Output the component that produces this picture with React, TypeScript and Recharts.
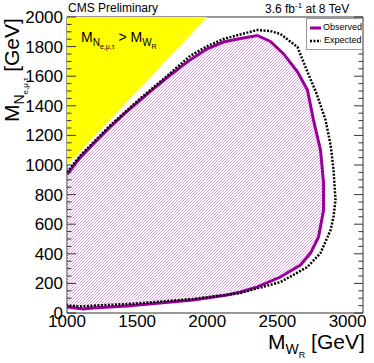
import { ComposedChart, Scatter, XAxis, YAxis, Legend } from 'recharts'

// observed exclusion contour (GeV), traced clockwise from the left edge
const obsMass = [1000, 1093, 1200, 1307, 1414, 1521, 1629, 1736, 1879, 2000, 2114, 2236, 2357, 2450, 2543, 2643, 2714, 2757, 2807, 2829, 2829, 2793, 2736, 2664, 2521, 2357, 2236, 2143, 1900, 1664, 1429, 1186, 1114, 1000]
const obsN = [935, 1050, 1155, 1257, 1350, 1439, 1525, 1608, 1712, 1785, 1831, 1855, 1875, 1835, 1752, 1630, 1507, 1304, 1101, 878, 696, 514, 405, 324, 243, 176, 142, 122, 88, 68, 47, 34, 27, 40]

// expected contour
const expMass = [1000, 1093, 1307, 1521, 1736, 1879, 2000, 2114, 2236, 2357, 2450, 2521, 2643, 2700, 2780, 2843, 2880, 2900, 2914, 2900, 2879, 2807, 2714, 2600, 2521, 2236, 1900, 1500, 1200, 1100, 1000]
const expN = [950, 1062, 1267, 1448, 1620, 1738, 1803, 1851, 1882, 1912, 1905, 1885, 1797, 1662, 1480, 1304, 1130, 966, 764, 650, 561, 405, 311, 250, 209, 135, 95, 65, 50, 45, 52]

// kinematically forbidden region M_N > M_W
const forbidMass = [1000, 2000, 1000]
const forbidN = [1000, 2000, 2000]

const seriesNames = ['Observed', 'Expected']
const xTicks = [1000, 1500, 2000, 2500, 3000]
const yTicks = [0, 200, 400, 600, 800, 1000, 1200, 1400, 1600, 1800, 2000]
const xDomain = [1000, 3110]
const yDomain = [0, 2000]

const steps = (a: number, b: number, s: number) => {
  const out: number[] = []
  for (let v = a; v <= b; v += s) out.push(v)
  return out
}
const xMinor = steps(1000, 3100, 100)
const yMinor = steps(0, 2000, 50)

const zip = (xs: number[], ys: number[]) => xs.map((x, i) => ({ x, y: ys[i] }))
const observed = zip(obsMass, obsN)
const expected = zip(expMass, expN)
const forbidden = zip(forbidMass, forbidN)

const font = '"Liberation Sans", Arial, Helvetica, sans-serif'
const purple = '#990099'
const hatchColor = '#dfa3ea'
const frame = '#333'

function TickMark(props: any) {
  const { x, y, payload, side } = props
  const v = payload.value
  const major = side === 'top' || side === 'bottom' ? v % 500 === 0 : v % 200 === 0
  const len = major ? 9 : 4.5
  let x2 = x
  let y2 = y
  if (side === 'bottom') y2 = y - len
  if (side === 'top') y2 = y + len
  if (side === 'left') x2 = x + len
  if (side === 'right') x2 = x - len
  return <line x1={x} y1={y} x2={x2} y2={y2} stroke={frame} strokeWidth={1} />
}

const noDot = () => <g />

function LegendBox() {
  return (
    <div style={{ border: '1px solid #999', background: '#fff', fontFamily: font, fontSize: 9, padding: '2px 0 2px 2px', lineHeight: '13px' }}>
      <div style={{ display: 'flex', alignItems: 'center' }}>
        <svg width={13} height={6}><line x1={1} y1={3} x2={12} y2={3} stroke={purple} strokeWidth={3} /></svg>
        <span style={{ marginLeft: 2 }}>{seriesNames[0]}</span>
      </div>
      <div style={{ display: 'flex', alignItems: 'center' }}>
        <svg width={13} height={6}><line x1={1} y1={3} x2={12} y2={3} stroke="#000" strokeWidth={2.5} strokeDasharray="2 1.5" /></svg>
        <span style={{ marginLeft: 2 }}>{seriesNames[1]}</span>
      </div>
    </div>
  )
}

export default function App() {
  return (
    <div style={{ position: 'absolute', left: 0, top: 0, width: 374, height: 363, background: '#fff', fontFamily: font }}>
      <svg width={0} height={0} style={{ position: 'absolute' }}>
        <defs>
          <pattern id="wrHatch" width="3" height="3" patternUnits="userSpaceOnUse">
            <rect x={0} y={2} width={1} height={1} fill={hatchColor} />
            <rect x={1} y={1} width={1} height={1} fill={hatchColor} />
            <rect x={2} y={0} width={1} height={1} fill={hatchColor} />
          </pattern>
        </defs>
      </svg>
      <ComposedChart width={374} height={363} margin={{ top: 17, right: 11, bottom: 0, left: 0 }}>
        <XAxis xAxisId="b" dataKey="x" type="number" domain={xDomain} ticks={xTicks} interval={0} allowDataOverflow
          height={50} tickLine={false} tickSize={0} tickMargin={2} axisLine={{ stroke: frame }}
          tick={{ fontSize: 17, fill: '#000', fontFamily: font }} />
        <YAxis yAxisId="l" dataKey="y" type="number" domain={yDomain} ticks={yTicks} interval={0} allowDataOverflow
          width={67} tickLine={false} tickSize={0} tickMargin={4} axisLine={{ stroke: frame }}
          tick={{ fontSize: 17, fill: '#000', fontFamily: font }} />

        <Scatter xAxisId="b" yAxisId="l" data={forbidden} dataKey="y" shape={noDot} legendType="none"
          line={{ fill: '#ffff00', stroke: 'none' }} isAnimationActive={false} />
        <Scatter xAxisId="b" yAxisId="l" data={observed} dataKey="y" shape={noDot} legendType="none"
          line={{ fill: 'url(#wrHatch)', stroke: 'none' }} isAnimationActive={false} />
        <Scatter xAxisId="b" yAxisId="l" data={observed} dataKey="y" name={seriesNames[0]} shape={noDot}
          line={{ stroke: purple, strokeWidth: 3, fill: 'none' }} isAnimationActive={false} />
        <Scatter xAxisId="b" yAxisId="l" data={expected} dataKey="y" name={seriesNames[1]} shape={noDot}
          line={{ stroke: '#000', strokeWidth: 2.5, strokeDasharray: '2 1.5', fill: 'none' }} isAnimationActive={false} />

        <XAxis xAxisId="bt" type="number" domain={xDomain} ticks={xMinor} interval={0} allowDataOverflow mirror
          height={1} tickLine={false} tickSize={0} tickMargin={0} axisLine={false} tick={<TickMark side="bottom" />} />
        <XAxis xAxisId="tt" orientation="top" type="number" domain={xDomain} ticks={xMinor} interval={0} allowDataOverflow mirror
          height={1} tickLine={false} tickSize={0} tickMargin={0} axisLine={{ stroke: frame }} tick={<TickMark side="top" />} />
        <YAxis yAxisId="lt" type="number" domain={yDomain} ticks={yMinor} interval={0} allowDataOverflow mirror
          width={1} tickLine={false} tickSize={0} tickMargin={0} axisLine={false} tick={<TickMark side="left" />} />
        <YAxis yAxisId="rt" orientation="right" type="number" domain={yDomain} ticks={yMinor} interval={0} allowDataOverflow mirror
          width={1} tickLine={false} tickSize={0} tickMargin={0} axisLine={{ stroke: frame }} tick={<TickMark side="right" />} />

        <Legend layout="vertical" align="center" verticalAlign="middle" content={<LegendBox />}
          wrapperStyle={{ position: 'absolute', left: 306, top: 18, width: 57 }} />
      </ComposedChart>

      <div style={{ position: 'absolute', left: 68, top: 1, fontSize: 12, whiteSpace: 'nowrap' }}>CMS Preliminary</div>
      <div style={{ position: 'absolute', left: 265, top: 1, fontSize: 12, whiteSpace: 'nowrap' }}>
        3.6 fb<sup style={{ fontSize: 8 }}>-1</sup> at 8 TeV
      </div>
      <div style={{ position: 'absolute', left: 81, top: 29, fontSize: 14, whiteSpace: 'nowrap' }}>
        M<sub style={{ fontSize: 10 }}>N<sub style={{ fontSize: 7 }}>e,μ,τ</sub></sub> &gt; M<sub style={{ fontSize: 10 }}>W<sub style={{ fontSize: 7 }}>R</sub></sub>
      </div>
      <div style={{ position: 'absolute', left: 268, top: 331, fontSize: 21, whiteSpace: 'nowrap', lineHeight: 1 }}>
        M<sub style={{ fontSize: 14 }}>W<sub style={{ fontSize: 9 }}>R</sub></sub> [GeV]
      </div>
      <div style={{ position: 'absolute', left: 1, top: 122, fontSize: 21, whiteSpace: 'nowrap', lineHeight: 1, transform: 'rotate(-90deg)', transformOrigin: 'left top' }}>
        M<sub style={{ fontSize: 14 }}>N<sub style={{ fontSize: 8 }}>e,μ,τ</sub></sub> [GeV]
      </div>
    </div>
  )
}
